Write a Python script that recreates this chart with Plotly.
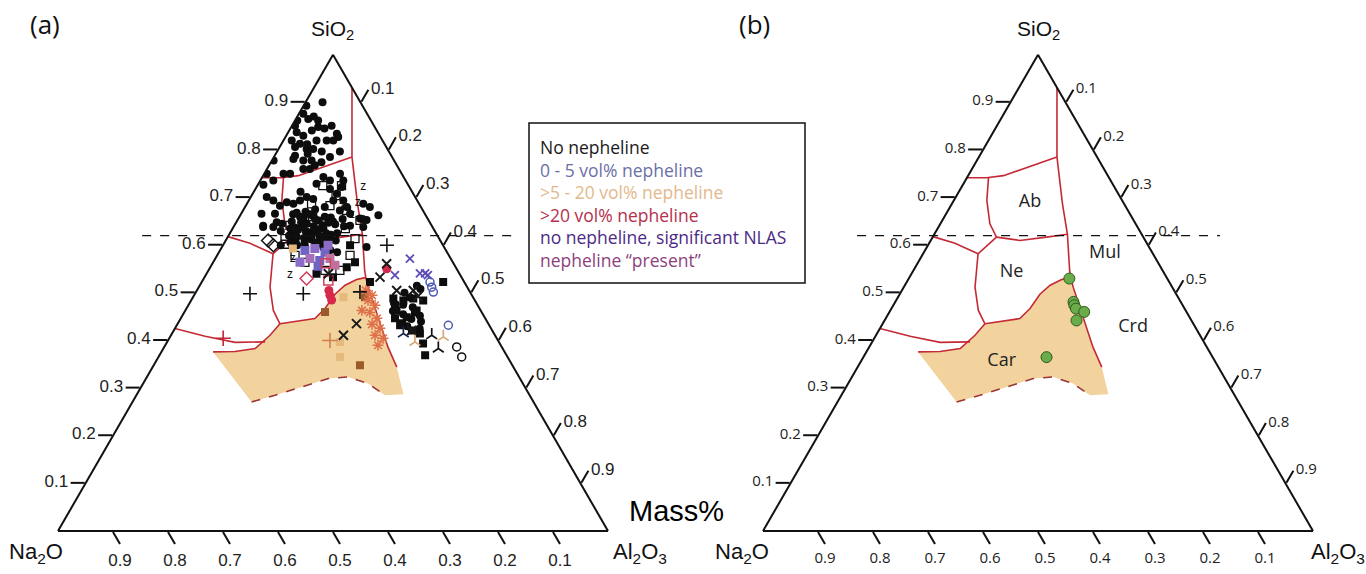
import numpy as np
import plotly.graph_objects as go

# ---------------------------------------------------------------------------
# Page geometry (pixels) of the two ternary panels
# ---------------------------------------------------------------------------
FIG_W, FIG_H = 1366, 574
TRI_W = 550.0
TRI_H = TRI_W * np.sqrt(3) / 2
BASE_Y = 531.0            # y of the triangle base, from the top of the page
LEFT_A, LEFT_B = 58.0, 763.0

TICK_VALUES = [0.1, 0.2, 0.3, 0.4, 0.5, 0.6, 0.7, 0.8, 0.9]
SIO2_DIVIDE = 0.62        # dashed SiO2 reference level


def remainder(si, al):
    """Na2O mass fraction that closes each composition to 1."""
    return [round(1.0 - s - a, 4) for s, a in zip(si, al)]


# ---------------------------------------------------------------------------
# Phase-field boundaries (mass fractions: SiO2 / Al2O3)
# ---------------------------------------------------------------------------
AB_MUL_SIO2 = [0.931, 0.785, 0.687, 0.623, 0.547, 0.530, 0.512, 0.386, 0.344]
AB_MUL_AL2O3 = [0.069, 0.142, 0.201, 0.242, 0.284, 0.295, 0.308, 0.407, 0.444]

AB_TOP_SIO2 = [0.7415, 0.7415, 0.746, 0.785]
AB_TOP_AL2O3 = [0.0, 0.036, 0.064, 0.142]

AB_LEFT_SIO2 = [0.742, 0.694, 0.645, 0.617]
AB_LEFT_AL2O3 = [0.039, 0.060, 0.090, 0.116]

AB_BOTTOM_SIO2 = [0.617, 0.610, 0.617, 0.623]
AB_BOTTOM_AL2O3 = [0.116, 0.162, 0.207, 0.242]

NE_TOP_SIO2 = [0.618, 0.604, 0.582, 0.617]
NE_TOP_AL2O3 = [0.0, 0.047, 0.100, 0.116]

NE_LEFT_SIO2 = [0.582, 0.512, 0.463, 0.435]
NE_LEFT_AL2O3 = [0.100, 0.1295, 0.160, 0.186]

NE_BOTTOM_SIO2 = [0.435, 0.446, 0.467, 0.497, 0.516, 0.528, 0.532]
NE_BOTTOM_AL2O3 = [0.186, 0.244, 0.252, 0.255, 0.264, 0.279, 0.293]

CAR_TOP_SIO2 = [0.435, 0.411, 0.383, 0.377, 0.376]
CAR_TOP_AL2O3 = [0.186, 0.180, 0.167, 0.1335, 0.094]

LOW_LEFT_SIO2 = [0.425, 0.409, 0.396, 0.397]
LOW_LEFT_AL2O3 = [0.0, 0.063, 0.124, 0.178]

CAR_FIELD_SIO2 = [0.376, 0.377, 0.383, 0.411, 0.435, 0.446, 0.467, 0.497, 0.516, 0.528,
                  0.532, 0.512, 0.386, 0.344, 0.287, 0.285, 0.3096, 0.3235, 0.320,
                  0.3025, 0.285, 0.271]
CAR_FIELD_AL2O3 = [0.094, 0.1335, 0.167, 0.180, 0.186, 0.244, 0.252, 0.255, 0.264, 0.279,
                   0.293, 0.308, 0.407, 0.444, 0.4845, 0.452, 0.409, 0.366, 0.3315,
                   0.292, 0.252, 0.2165]

CAR_LIMIT_SIO2 = [0.271, 0.285, 0.3025, 0.320, 0.3235, 0.3096, 0.285]
CAR_LIMIT_AL2O3 = [0.2165, 0.252, 0.292, 0.3315, 0.366, 0.409, 0.452]

BOUNDARIES = [
    (AB_MUL_SIO2, AB_MUL_AL2O3), (AB_TOP_SIO2, AB_TOP_AL2O3),
    (AB_LEFT_SIO2, AB_LEFT_AL2O3), (AB_BOTTOM_SIO2, AB_BOTTOM_AL2O3),
    (NE_TOP_SIO2, NE_TOP_AL2O3), (NE_LEFT_SIO2, NE_LEFT_AL2O3),
    (NE_BOTTOM_SIO2, NE_BOTTOM_AL2O3), (CAR_TOP_SIO2, CAR_TOP_AL2O3),
    (LOW_LEFT_SIO2, LOW_LEFT_AL2O3),
]

# ---------------------------------------------------------------------------
# Panel (a): glass compositions
# ---------------------------------------------------------------------------
NONE_SIO2 = [0.893, 0.900, 0.876, 0.865, 0.862, 0.848, 0.862, 0.851, 0.851, 0.834,
             0.827, 0.837, 0.830, 0.841, 0.820, 0.820, 0.820, 0.797, 0.820, 0.806,
             0.813, 0.802, 0.802, 0.797, 0.788, 0.781, 0.778, 0.778, 0.774, 0.760,
             0.760, 0.785, 0.778, 0.750, 0.750, 0.750, 0.736, 0.727, 0.701, 0.666,
             0.641, 0.694, 0.666, 0.648, 0.638, 0.690, 0.687, 0.694, 0.701, 0.697,
             0.743, 0.736, 0.750, 0.736, 0.722, 0.708, 0.694, 0.694, 0.680, 0.673,
             0.666, 0.687, 0.680, 0.663, 0.656, 0.653, 0.641, 0.638, 0.729, 0.718,
             0.638, 0.596, 0.870, 0.845, 0.812, 0.792, 0.768, 0.712, 0.683, 0.655,
             # dense group just above the SiO2 = 0.62 level
             0.665, 0.660, 0.665, 0.655, 0.660, 0.650, 0.648, 0.645, 0.640, 0.642,
             0.635, 0.632, 0.630, 0.628, 0.635, 0.625, 0.620, 0.618, 0.615, 0.612,
             0.620, 0.610, 0.605, 0.600, 0.598, 0.605, 0.650, 0.655, 0.640, 0.625,
             0.610, 0.670, 0.675, 0.680, 0.645, 0.630, 0.600, 0.590, 0.585, 0.595,
             0.657, 0.652, 0.647, 0.637, 0.633, 0.627, 0.622, 0.616, 0.608, 0.603,
             0.662, 0.644, 0.638, 0.622, 0.614, 0.607, 0.668, 0.658, 0.628, 0.612,
             # group right of the Al2O3-rich boundary
             0.500, 0.490, 0.475, 0.470, 0.455, 0.445, 0.430, 0.440, 0.425, 0.478,
             0.462, 0.452, 0.515, 0.508]
NONE_AL2O3 = [0.005, 0.031, 0.008, 0.0225, 0.042, 0.049, 0.004, 0.0055, 0.072, 0.090,
              0.096, 0.0155, 0.031, 0.041, 0.060, 0.0785, 0.0906, 0.114, 0.015, 0.028,
              0.0335, 0.051, 0.063, 0.081, 0.037, 0.0375, 0.057, 0.072, 0.092, 0.078,
              0.066, 0.102, 0.003, 0.0045, 0.035, 0.047, 0.0235, 0.010, 0.029, 0.037,
              0.0525, 0.0445, 0.0615, 0.0736, 0.0725, 0.071, 0.0845, 0.093, 0.1015, 0.1155,
              0.111, 0.1265, 0.1377, 0.1507, 0.1548, 0.153, 0.1536, 0.1717, 0.185, 0.176,
              0.198, 0.2115, 0.227, 0.251, 0.221, 0.2345, 0.2105, 0.236, 0.1055, 0.1355,
              0.054, 0.263, 0.030, 0.062, 0.047, 0.058, 0.083, 0.085, 0.062, 0.226,
              0.095, 0.110, 0.125, 0.140, 0.155, 0.100, 0.118, 0.130, 0.145, 0.160,
              0.105, 0.120, 0.135, 0.150, 0.165, 0.175, 0.110, 0.125, 0.140, 0.155,
              0.165, 0.180, 0.120, 0.135, 0.150, 0.165, 0.175, 0.190, 0.200, 0.195,
              0.200, 0.115, 0.130, 0.145, 0.085, 0.090, 0.105, 0.200, 0.215, 0.185,
              0.118, 0.148, 0.168, 0.112, 0.157, 0.142, 0.185, 0.118, 0.128, 0.178,
              0.132, 0.182, 0.123, 0.150, 0.170, 0.145, 0.100, 0.167, 0.112, 0.190,
              0.380, 0.395, 0.390, 0.410, 0.400, 0.420, 0.420, 0.440, 0.445, 0.372,
              0.378, 0.432, 0.395, 0.405]

OPEN_SQ_SIO2 = [0.725, 0.725, 0.687, 0.683, 0.673, 0.652, 0.6415, 0.627, 0.614, 0.614,
                0.5786, 0.564, 0.547, 0.5786, 0.614, 0.547, 0.704, 0.660, 0.635, 0.602]
OPEN_SQ_AL2O3 = [0.119, 0.153, 0.1175, 0.153, 0.188, 0.223, 0.101, 0.1265, 0.166, 0.1057,
                 0.1417, 0.167, 0.212, 0.2417, 0.233, 0.239, 0.1535, 0.133, 0.205, 0.112]

Z_SIO2 = [0.722, 0.680, 0.688, 0.6625, 0.537, 0.572]
Z_AL2O3 = [0.194, 0.176, 0.201, 0.2033, 0.1533, 0.141]

PLUS_SIO2 = [0.600, 0.498, 0.498, 0.502]
PLUS_AL2O3 = [0.298, 0.100, 0.197, 0.298]

XBLK_SIO2 = [0.540, 0.533, 0.561, 0.4354, 0.411, 0.505, 0.505, 0.4927, 0.421]
XBLK_AL2O3 = [0.2215, 0.319, 0.317, 0.325, 0.3135, 0.3633, 0.3935, 0.408, 0.4325]

XBLUE_SIO2 = [0.5717, 0.537, 0.541, 0.541, 0.537]
XBLUE_AL2O3 = [0.354, 0.344, 0.3875, 0.397, 0.404]

SQ_SIO2 = [0.540, 0.5226, 0.3935, 0.369, 0.421, 0.4465, 0.436, 0.4738, 0.459, 0.600,
           0.554, 0.533, 0.564, 0.488, 0.484, 0.488, 0.484, 0.463, 0.449, 0.463,
           0.432, 0.4145, 0.5226]
SQ_AL2O3 = [0.200, 0.306, 0.467, 0.483, 0.433, 0.3895, 0.4075, 0.3758, 0.4195, 0.231,
            0.248, 0.2335, 0.258, 0.3657, 0.386, 0.402, 0.422, 0.384, 0.4095, 0.4205,
            0.406, 0.4508, 0.439]

OCIRC_SIO2 = [0.5226, 0.512, 0.5017, 0.432, 0.3864, 0.3654]
OCIRC_AL2O3 = [0.415, 0.4234, 0.4316, 0.4937, 0.5317, 0.5513]
OCIRC_COLOR = ["#4a5ab0", "#4a5ab0", "#4a5ab0", "#4a5ab0", "#111111", "#111111"]

Y_SIO2 = [0.4145, 0.411, 0.383, 0.4075, 0.397]
Y_AL2O3 = [0.4207, 0.474, 0.500, 0.4968, 0.4505]
Y_COLOR = ["#1c2250", "#111111", "#111111", "#d8a878", "#d8a878"]

DIAM_SIO2 = [0.600, 0.610, 0.530]
DIAM_AL2O3 = [0.0915, 0.077, 0.187]
DIAM_COLOR = ["#111111", "#111111", "#d03c5a"]

PINK_SQ_SIO2 = [0.526, 0.562]
PINK_SQ_AL2O3 = [0.2285, 0.206]

RED_DOT_SIO2 = [0.5507, 0.4948, 0.505, 0.485]
RED_DOT_AL2O3 = [0.3223, 0.247, 0.240, 0.255]

LOWNEPH_SIO2 = [0.589, 0.593, 0.585, 0.572, 0.568, 0.572, 0.564, 0.5556, 0.5577, 0.600]
LOWNEPH_AL2O3 = [0.1545, 0.1705, 0.193, 0.172, 0.192, 0.2085, 0.158, 0.195, 0.2248, 0.191]
LOWNEPH_COLOR = ["#6f63c4", "#8c6cc6", "#6f63c4", "#a66fb8", "#6f63c4", "#c0709c",
                 "#8c6cc6", "#6f63c4", "#c0709c", "#8c6cc6"]

TAN_SQ_SIO2 = [0.397, 0.3654, 0.491, 0.593]
TAN_SQ_AL2O3 = [0.314, 0.330, 0.2735, 0.1305]

BROWN_SQ_SIO2 = [0.348, 0.460, 0.491]
BROWN_SQ_AL2O3 = [0.375, 0.2555, 0.3125]

STAR_SIO2 = [0.505, 0.4948, 0.484, 0.4738, 0.459, 0.4465, 0.434, 0.4256, 0.411, 0.4046,
             0.463, 0.390]
STAR_AL2O3 = [0.3075, 0.3236, 0.3216, 0.3395, 0.3375, 0.3568, 0.354, 0.3727, 0.371, 0.3887,
              0.321, 0.3868]

CPLUS_SIO2 = [0.400, 0.4046]
CPLUS_AL2O3 = [0.2945, 0.098]
CPLUS_COLOR = ["#d08050", "#c02838"]

# ---------------------------------------------------------------------------
# Panel (b): bulk compositions and field names
# ---------------------------------------------------------------------------
GREEN_SIO2 = [0.530, 0.481, 0.474, 0.467, 0.460, 0.442, 0.365]
GREEN_AL2O3 = [0.292, 0.324, 0.329, 0.3355, 0.354, 0.349, 0.333]

FIELD_NAMES = ["Ab", "Ne", "Mul", "Crd", "Car"]
FIELD_SIO2 = [0.690, 0.5436, 0.583, 0.4277, 0.355]
FIELD_AL2O3 = [0.1405, 0.180, 0.330, 0.459, 0.2565]

LEGEND_TEXT = ["No nepheline", "0 - 5 vol% nepheline", ">5 - 20 vol% nepheline",
               ">20 vol% nepheline", "no nepheline, significant NLAS",
               "nepheline \u201cpresent\u201d"]
LEGEND_COLOR = ["#1a1a1a", "#6b6fa6", "#e2b98c", "#b5304c", "#4b2a86", "#8d3f7e"]

RED = "#c42a35"
FIELD_FILL = "#f2d39e"

fig = go.Figure()


def tern(si, al, subplot, **kw):
    fig.add_trace(go.Scatterternary(a=si, b=remainder(si, al), c=al, subplot=subplot,
                                    hoverinfo="skip", showlegend=False, **kw))


def phase_diagram(subplot):
    tern(CAR_FIELD_SIO2, CAR_FIELD_AL2O3, subplot, mode="lines", fill="toself",
         fillcolor=FIELD_FILL, line=dict(width=0, color=FIELD_FILL))
    for si, al in BOUNDARIES:
        tern(si, al, subplot, mode="lines", line=dict(color=RED, width=1.6))
    tern(CAR_LIMIT_SIO2, CAR_LIMIT_AL2O3, subplot, mode="lines",
         line=dict(color="#9c3434", width=1.6, dash="dash"))


def markers(si, al, symbol, color, size, width=1.2, subplot="ternary"):
    tern(si, al, subplot, mode="markers",
         marker=dict(symbol=symbol, color=color, size=size,
                     line=dict(color=color, width=width)))


# ----- panel (a)
phase_diagram("ternary")
markers(NONE_SIO2, NONE_AL2O3, "circle", "#0d0d0d", 8, 0)
markers(OPEN_SQ_SIO2, OPEN_SQ_AL2O3, "square-open", "#111111", 8, 1.3)
markers(SQ_SIO2, SQ_AL2O3, "square", "#0d0d0d", 8, 0)
markers(LOWNEPH_SIO2, LOWNEPH_AL2O3, "square", LOWNEPH_COLOR, 9, 0)
markers(TAN_SQ_SIO2, TAN_SQ_AL2O3, "square", "#e5b87c", 8, 0)
markers(BROWN_SQ_SIO2, BROWN_SQ_AL2O3, "square", "#9a5a2a", 8, 0)
markers(STAR_SIO2, STAR_AL2O3, "asterisk-open", "#e0704a", 9, 1.5)
markers(RED_DOT_SIO2, RED_DOT_AL2O3, "circle", "#d6284a", 9, 0)
markers(PINK_SQ_SIO2, PINK_SQ_AL2O3, "square-open", "#d0405a", 9, 1.5)
markers(DIAM_SIO2, DIAM_AL2O3, "diamond-open", DIAM_COLOR, 10, 1.5)
markers(PLUS_SIO2, PLUS_AL2O3, "cross-thin-open", "#111111", 10, 1.6)
markers(CPLUS_SIO2, CPLUS_AL2O3, "cross-thin-open", CPLUS_COLOR, 11, 1.6)
markers(XBLK_SIO2, XBLK_AL2O3, "x-thin-open", "#1a1a1a", 9, 2)
markers(XBLUE_SIO2, XBLUE_AL2O3, "x-thin-open", "#5b4db5", 8, 1.8)
markers(OCIRC_SIO2, OCIRC_AL2O3, "circle-open", OCIRC_COLOR, 8, 1.5)
markers(Y_SIO2, Y_AL2O3, "y-up-open", Y_COLOR, 9, 1.7)
tern(Z_SIO2, Z_AL2O3, "ternary", mode="text", text=["z"] * len(Z_SIO2),
     textfont=dict(family="Liberation Sans", size=12, color="#111111"))

# ----- panel (b)
phase_diagram("ternary2")
tern(GREEN_SIO2, GREEN_AL2O3, "ternary2", mode="markers",
     marker=dict(symbol="circle", color="#6aac4a", size=11,
                 line=dict(color="#2e5a1c", width=1)))
tern(FIELD_SIO2, FIELD_AL2O3, "ternary2", mode="text", text=FIELD_NAMES,
     textfont=dict(family="Open Sans", size=18, color="#222222"))


def ternary_layout(x0, tickfont):
    axis = dict(title=dict(text=""), min=0, tickvals=TICK_VALUES, ticks="outside",
                ticklen=14, tickwidth=1.5, tickcolor="#111111", showgrid=False,
                showline=True, linecolor="#111111", linewidth=2, tickfont=tickfont)
    y0 = (FIG_H - BASE_Y) / FIG_H
    return dict(sum=1, bgcolor="white",
                domain=dict(x=[x0 / FIG_W, (x0 + TRI_W) / FIG_W],
                            y=[y0, y0 + TRI_H / FIG_H]),
                aaxis=axis, baxis=axis, caxis=axis)


def dashed_level(x0, f0, f1):
    y = (FIG_H - BASE_Y + SIO2_DIVIDE * TRI_H) / FIG_H
    return dict(type="line", xref="paper", yref="paper",
                x0=(x0 + f0 * TRI_W) / FIG_W, x1=(x0 + f1 * TRI_W) / FIG_W,
                y0=y, y1=y, line=dict(color="#111111", width=1.3, dash="dash"))


def px(x):
    return x / FIG_W


def py(y):
    return 1 - y / FIG_H


annotations = []


def label(x, y, text, size, family="Liberation Sans", color="#111111", anchor="center"):
    annotations.append(dict(x=px(x), y=py(y), xref="paper", yref="paper", text=text,
                            showarrow=False, xanchor=anchor, yanchor="middle",
                            font=dict(family=family, size=size, color=color)))


label(45, 24, "(a)", 26, "Open Sans")
label(754, 24, "(b)", 26, "Open Sans")
for cx in (332, 1038):
    label(cx, 30, "SiO<sub>2</sub>", 21)
label(36, 553, "Na<sub>2</sub>O", 22)
label(640, 553, "Al<sub>2</sub>O<sub>3</sub>", 22)
label(742, 553, "Na<sub>2</sub>O", 22)
label(1338, 553, "Al<sub>2</sub>O<sub>3</sub>", 22)
label(676, 511, "Mass%", 29, "Liberation Sans", "#000000")

for i, (txt, col) in enumerate(zip(LEGEND_TEXT, LEGEND_COLOR)):
    label(538, 147 + 22.5 * i, txt, 17.5, "Open Sans", col, "left")

fig.update_layout(
    width=FIG_W, height=FIG_H, autosize=False,
    margin=dict(l=0, r=0, t=0, b=0),
    paper_bgcolor="white", plot_bgcolor="white",
    showlegend=False, hovermode=False,
    ternary=ternary_layout(LEFT_A, dict(family="Liberation Sans", size=17, color="#222222")),
    ternary2=ternary_layout(LEFT_B, dict(family="Open Sans", size=15, color="#222222")),
    shapes=[dashed_level(LEFT_A, 0.153, 0.825), dashed_level(LEFT_B, 0.171, 0.831),
            dict(type="rect", xref="paper", yref="paper", x0=px(529), x1=px(805),
                 y0=py(283), y1=py(123), line=dict(color="#111111", width=1.5))],
    annotations=annotations,
)

fig.write_html("out.html")
